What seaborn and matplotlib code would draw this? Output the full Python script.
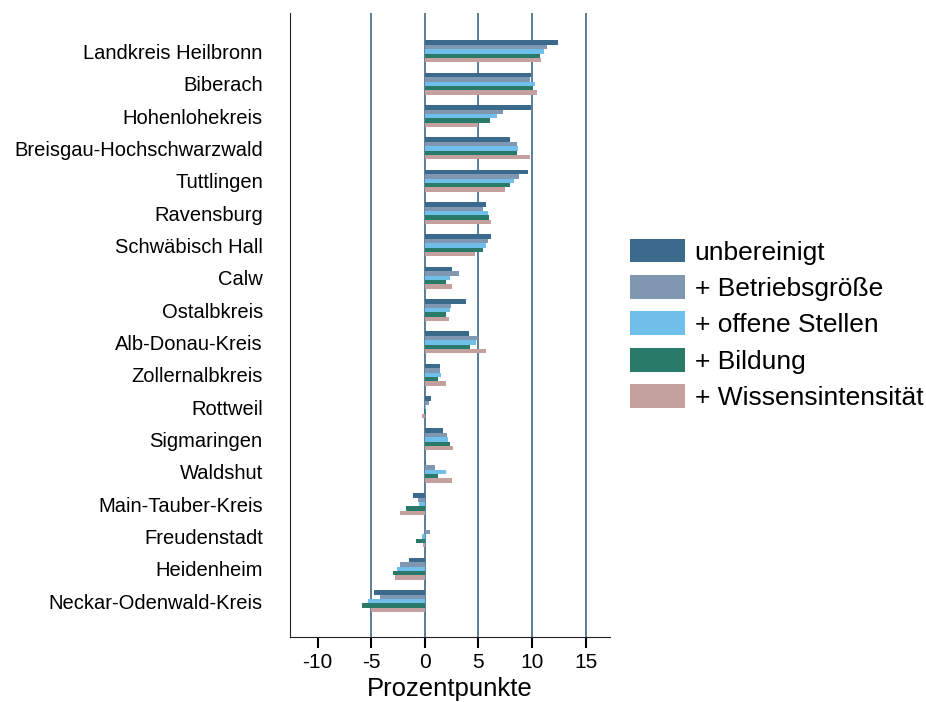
import pandas as pd
import seaborn as sns
import matplotlib.pyplot as plt

# Data
kreise = ['Landkreis Heilbronn', 'Biberach', 'Hohenlohekreis', 'Breisgau-Hochschwarzwald',
          'Tuttlingen', 'Ravensburg', 'Schwäbisch Hall', 'Calw', 'Ostalbkreis',
          'Alb-Donau-Kreis', 'Zollernalbkreis', 'Rottweil', 'Sigmaringen', 'Waldshut',
          'Main-Tauber-Kreis', 'Freudenstadt', 'Heidenheim', 'Neckar-Odenwald-Kreis']

unbereinigt = [12.4, 9.9, 9.9, 7.9, 9.6, 5.7, 6.2, 2.55, 3.8, 4.1, 1.4, 0.55, 1.7, 0.15,
               -1.1, 0.0, -1.5, -4.7]
betriebsgroesse = [11.4, 9.8, 7.3, 8.6, 8.8, 5.45, 5.85, 3.15, 2.45, 5.0, 1.4, 0.4, 2.1, 0.95,
                   -0.6, 0.45, -2.3, -4.2]
offene_stellen = [11.15, 10.25, 6.7, 8.7, 8.3, 5.85, 5.75, 2.3, 2.3, 4.75, 1.55, 0.15, 2.2, 1.95,
                  -0.5, -0.3, -2.6, -5.3]
bildung = [10.75, 10.05, 6.1, 8.6, 7.9, 6.0, 5.45, 2.0, 2.0, 4.2, 1.25, -0.1, 2.3, 1.25,
           -1.8, -0.85, -3.0, -5.9]
wissen = [10.85, 10.5, 5.0, 9.8, 7.5, 6.2, 4.7, 2.55, 2.25, 5.7, 2.0, -0.3, 2.65, 2.5,
          -2.3, -0.15, -2.8, -5.0]

serien = ['unbereinigt', '+ Betriebsgröße', '+ offene Stellen', '+ Bildung', '+ Wissensintensität']
farben = ['#3b6a8d', '#7f97b0', '#70bfea', '#2a7a6a', '#c4a09f']
xticks = [-10, -5, 0, 5, 10, 15]
xlines = [-5, 0, 5, 10, 15]

df = pd.DataFrame({'Kreis': kreise,
                   serien[0]: unbereinigt,
                   serien[1]: betriebsgroesse,
                   serien[2]: offene_stellen,
                   serien[3]: bildung,
                   serien[4]: wissen})
df_long = df.melt(id_vars='Kreis', var_name='Modell', value_name='Wert')

sns.set_style('ticks')
plt.rcParams['font.family'] = ['Liberation Sans', 'DejaVu Sans']
plt.rcParams['text.color'] = 'black'

fig = plt.figure(figsize=(9.26, 7.02), dpi=100)
ax = fig.add_axes([0.313, 0.093, 0.346, 0.889])

# vertical reference lines (behind the bars)
for x in xlines:
    ax.axvline(x, color='#2f5a78', linewidth=1.1, zorder=0)

sns.barplot(data=df_long, y='Kreis', x='Wert', hue='Modell', order=kreise,
            hue_order=serien, palette=farben, orient='h', width=0.68,
            saturation=1, linewidth=0, ax=ax)
for p in ax.patches:
    p.set_zorder(3)

ax.set_xlim(-12.6, 17.3)
ax.set_ylim(len(kreise) - 1 + 1.1, -1.2)
ax.set_xticks(xticks)
ax.set_xticklabels([str(t) for t in xticks])
ax.set_xlabel('Prozentpunkte', fontsize=18.5, labelpad=3, color='black')
ax.set_ylabel('')

for side in ['top', 'right']:
    ax.spines[side].set_visible(False)
ax.spines['left'].set_color('#222222')
ax.spines['bottom'].set_color('#222222')

ax.tick_params(axis='x', bottom=True, length=8, width=1.5, color='black',
               direction='out', labelsize=15, labelcolor='black', pad=4)
ax.tick_params(axis='y', length=0, labelsize=14.5, labelcolor='black', pad=19.5)

handles, labels = ax.get_legend_handles_labels()
ax.legend_.remove()
leg = fig.legend(handles, labels, loc='upper left', bbox_to_anchor=(0.680, 0.660),
                 frameon=False, fontsize=19, handlelength=2.08, handleheight=1.0,
                 handletextpad=0.38, labelspacing=0.40, borderpad=0, borderaxespad=0)
for txt in leg.get_texts():
    txt.set_color('black')

fig.savefig('out.png', dpi=100)
